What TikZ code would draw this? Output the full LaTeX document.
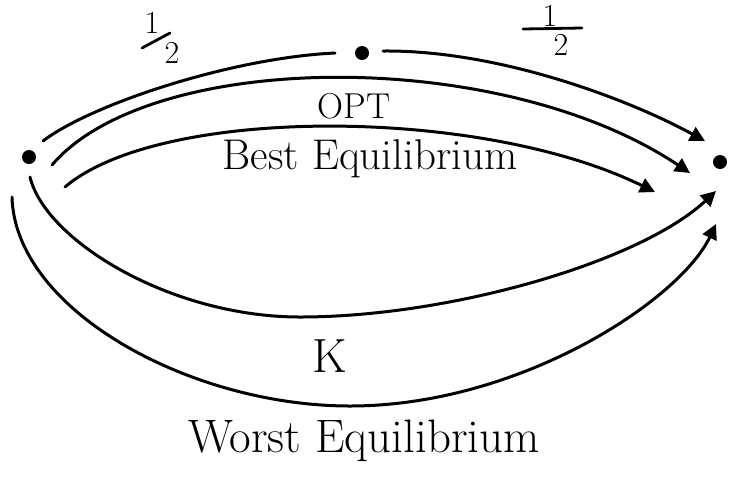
\documentclass[tikz,border=0pt]{standalone}
\usetikzlibrary{arrows.meta}
\begin{document}
\begin{tikzpicture}[x=1pt,y=-1pt,
  dot/.style={circle,fill=black,inner sep=0pt,minimum size=14pt},
  stroke/.style={line width=3pt,line cap=round,line join=round},
  arr/.style={stroke,-{Triangle[length=15pt,width=15pt]}},
  lbl/.style={inner sep=0pt},
  digit/.style={inner sep=0pt,font=\fontsize{32}{32}\selectfont},
  fracbar/.style={line width=2.8pt,line cap=round}]
\useasboundingbox (0,0) rectangle (730,483);
% nodes (points)
\node[dot] (L) at (29,157) {};
\node[dot] (M) at (362,53) {};
\node[dot] (R) at (720,162) {};
% connector ends
\coordinate (a1) at (43,141);
\coordinate (a2) at (335,53);
\coordinate (b1) at (383,51);
\coordinate (b2) at (705,141);
\coordinate (c1) at (52,165);
\coordinate (c2) at (690,173);
\coordinate (d1) at (65,187);
\coordinate (d2) at (655,192);
\coordinate (e1) at (30,177);
\coordinate (e2) at (716,191);
\coordinate (f1) at (12,197);
\coordinate (f2) at (716,224);
% connectors
\draw[stroke] (a1) .. controls (90,105) and (230,58) .. (a2);
\draw[arr] (b1) .. controls (500,50) and (630,100) .. (b2);
\draw[arr] (c1) .. controls (150,50) and (500,46) .. (c2);
\draw[arr] (d1) .. controls (160,106) and (480,106) .. (d2);
\draw[arr] (e1) .. controls (45,240) and (170,317) .. (300,317)
               .. controls (450,317) and (640,262) .. (e2);
\draw[arr] (f1) .. controls (15,310) and (190,406) .. (350,406)
               .. controls (520,406) and (680,300) .. (f2);
% fraction labels
\node[digit] (n1) at (152,23) {1};
\coordinate (s1) at (142,48);
\coordinate (s2) at (170,33);
\draw[fracbar] (s1) -- (s2);
\node[digit] (d1n) at (172,53) {2};
\node[digit] (n2) at (550,16) {1};
\coordinate (t1) at (523,29);
\coordinate (t2) at (582,28);
\draw[fracbar] (t1) -- (t2);
\node[digit] (d2n) at (561,45) {2};
% text labels
\node[lbl,anchor=base,font=\fontsize{36}{36}\selectfont] (opt) at (354,118) {OPT};
\node[lbl,anchor=base,font=\fontsize{43}{43}\selectfont] (best) at (370,169) {Best Equilibrium};
\node[lbl,anchor=base,font=\fontsize{48}{48}\selectfont] (k) at (330,372) {K};
\node[lbl,anchor=base,font=\fontsize{47}{47}\selectfont] (worst) at (364,452) {Worst Equilibrium};
\end{tikzpicture}
\end{document}
